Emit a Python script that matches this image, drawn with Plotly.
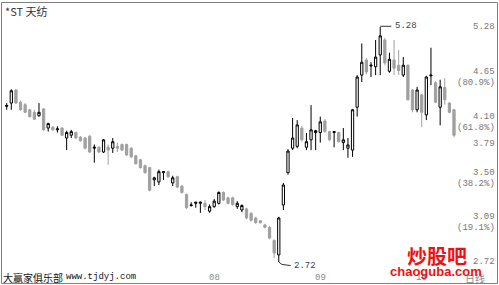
import numpy as np
import plotly.graph_objects as go

# ---- data ----
opens = [4.22,4.26,4.42,4.27,4.24,4.18,4.15,4.11,4.19,3.97,
         3.98,3.95,3.97,3.86,3.89,3.92,3.87,3.86,3.88,3.75,
         3.76,3.71,3.76,3.75,3.77,3.79,3.79,3.75,3.67,3.63,
         3.57,3.55,3.43,3.41,3.50,3.51,3.40,3.46,3.37,3.29,
         3.19,3.21,3.21,3.21,3.14,3.18,3.21,3.31,3.26,3.26,
         3.18,3.15,3.16,3.12,3.08,3.055,3.02,3.00,2.89,2.775,
         3.195,3.50,3.75,3.77,3.97,3.76,3.84,3.92,3.92,4.05,
         3.93,3.92,3.92,3.81,3.75,3.73,4.21,4.61,4.81,4.73,
         4.72,4.88,5.09,4.66,4.81,4.74,4.61,4.74,4.42,4.18,
         4.36,4.12,4.60,4.51,4.21,4.45,4.26,4.18]
highs = [4.26,4.43,4.43,4.29,4.26,4.19,4.18,4.26,4.20,4.03,
         3.99,3.99,3.98,3.94,3.95,3.93,3.88,3.87,3.89,3.79,
         3.77,3.85,3.79,3.86,3.81,3.80,3.80,3.76,3.68,3.64,
         3.58,3.56,3.46,3.53,3.51,3.52,3.47,3.47,3.38,3.30,
         3.22,3.22,3.225,3.24,3.20,3.25,3.32,3.32,3.27,3.27,
         3.23,3.20,3.17,3.13,3.09,3.06,3.03,3.01,2.90,3.09,
         3.40,3.74,4.085,4.06,3.99,3.915,4.235,3.95,4.10,4.07,
         3.94,3.93,3.93,3.97,3.86,4.19,4.61,5.04,4.84,4.78,
         5.09,5.28,5.12,4.91,5.09,4.95,4.85,4.75,4.43,4.46,
         4.37,4.60,4.98,4.53,4.55,4.57,4.27,4.19]
lows = [4.18,4.18,4.25,4.17,4.14,4.09,4.06,4.10,3.94,3.93,
        3.94,3.92,3.88,3.73,3.86,3.85,3.82,3.74,3.70,3.60,
        3.70,3.70,3.58,3.70,3.71,3.72,3.67,3.65,3.58,3.54,
        3.49,3.32,3.37,3.38,3.43,3.45,3.37,3.35,3.30,3.16,
        3.18,3.17,3.125,3.15,3.125,3.17,3.20,3.23,3.20,3.19,
        3.16,3.13,3.07,3.05,3.03,3.03,2.99,2.90,2.75,2.72,
        3.15,3.48,3.73,3.75,3.82,3.73,3.73,3.73,3.81,3.92,
        3.83,3.76,3.81,3.73,3.65,3.66,4.10,4.52,4.62,4.585,
        4.61,4.61,4.74,4.64,4.61,4.61,4.585,4.29,4.15,4.15,
        3.98,4.06,4.48,4.26,4.00,4.24,4.14,3.87]
closes = [4.23,4.41,4.26,4.18,4.15,4.10,4.07,4.15,3.95,4.02,
          3.95,3.96,3.89,3.92,3.93,3.86,3.83,3.75,3.71,3.76,
          3.71,3.84,3.73,3.82,3.75,3.73,3.68,3.66,3.59,3.55,
          3.50,3.33,3.45,3.51,3.51,3.46,3.45,3.36,3.31,3.17,
          3.195,3.22,3.22,3.18,3.18,3.23,3.31,3.24,3.21,3.20,
          3.21,3.19,3.08,3.06,3.04,3.04,3.00,2.91,2.79,3.08,
          3.38,3.72,3.86,4.005,3.84,3.82,3.95,3.94,4.04,3.93,
          3.84,3.93,3.82,3.84,3.785,4.18,4.585,4.78,4.65,4.74,
          4.85,5.15,4.77,4.82,4.70,4.67,4.74,4.30,4.18,4.42,
          4.15,4.585,4.61,4.27,4.46,4.30,4.15,3.89]

month_labels = ["08", "09", "10"]
month_start_idx = [45, 68, 90]

level_values = [5.28, 4.65, 4.10, 3.79, 3.50, 3.09, 2.72]
level_labels = ["5.28", "4.65", "4.10", "3.79", "3.50", "3.09", "2.72"]
level_pct = ["", "(80.9%)", "(61.8%)", "", "(38.2%)", "(19.1%)", ""]

title_text = "*ST 天纺"
brand_cn = "大赢家俱乐部"
brand_url = "www.tjdyj.com"
period_text = "日线"
wm_cn = "炒股吧"
wm_url = "chaoguba.com"

# ---- geometry ----
W, H = 499, 285
n = len(opens)
xs = list(range(n))
x_first_px, x_last_px = 6.7, 454.0
step = (x_last_px - x_first_px) / (n - 1)
x_range = [-x_first_px / step, (n - 1) + (W - x_last_px) / step]

hi = max(highs); lo = min(lows)
y_hi_px, y_lo_px = 27.0, 262.0
ppd = (y_lo_px - y_hi_px) / (np.log10(hi) - np.log10(lo))
y_range = [np.log10(lo) - (H - y_lo_px) / ppd, np.log10(hi) + y_hi_px / ppd]

def py(px):  # paper y from pixel from top
    return 1 - px / H
def pxx(px):
    return px / W

GRAY = "#a0a0a0"
mono = "Liberation Mono"
cjk = "Noto Sans CJK SC"

fig = go.Figure()
fig.add_trace(go.Candlestick(
    x=xs, open=opens, high=highs, low=lows, close=closes,
    increasing=dict(line=dict(color="#000000", width=1), fillcolor="#ffffff"),
    decreasing=dict(line=dict(color=GRAY, width=1), fillcolor=GRAY),
    whiskerwidth=0, hoverinfo="skip", showlegend=False,
))

# leader lines for extremes
ih = int(np.argmax(highs)); il = int(np.argmin(lows))
fig.add_trace(go.Scatter(x=[ih, ih + 2.4], y=[hi * 1.002, hi * 1.002], mode="lines",
                         line=dict(color="#333333", width=1), hoverinfo="skip", showlegend=False))
fig.add_trace(go.Scatter(x=[il, il + 0.7, il + 2.6], y=[lo, lo * 0.993, lo * 0.99], mode="lines",
                         line=dict(color="#333333", width=1), hoverinfo="skip", showlegend=False))

ann = []
ann.append(dict(x=ih + 2.8, y=np.log10(hi * 1.002), xref="x", yref="y", text=f"{hi:.2f}",
                showarrow=False, xanchor="left", yanchor="middle",
                font=dict(family=mono, size=9, color="#444444")))
ann.append(dict(x=il + 2.9, y=np.log10(lo * 0.99), xref="x", yref="y", text=f"{lo:.2f}",
                showarrow=False, xanchor="left", yanchor="middle",
                font=dict(family=mono, size=9, color="#444444")))

for v, lab, pct in zip(level_values, level_labels, level_pct):
    ann.append(dict(x=pxx(497), y=np.log10(v), xref="paper", yref="y", text=lab,
                    showarrow=False, xanchor="right", yanchor="middle",
                    font=dict(family=mono, size=9, color="#777777")))
    if pct:
        ann.append(dict(x=pxx(497), y=np.log10(v), xref="paper", yref="y", text=pct,
                        showarrow=False, xanchor="right", yanchor="middle", yshift=-11,
                        font=dict(family=mono, size=9, color="#777777")))

for idx, lab in zip(month_start_idx, month_labels):
    ann.append(dict(x=idx, y=py(278), xref="x", yref="paper", text=lab, showarrow=False,
                    xanchor="center", yanchor="middle",
                    font=dict(family=mono, size=9, color="#888888")))
ann.append(dict(x=pxx(487), y=py(278), xref="paper", yref="paper", text=period_text,
                showarrow=False, xanchor="right", yanchor="middle",
                font=dict(family=cjk, size=10, color="#888888")))

ann.append(dict(x=pxx(3), y=py(11), xref="paper", yref="paper", text=title_text,
                showarrow=False, xanchor="left", yanchor="middle",
                font=dict(family=cjk, size=11, color="#333333")))
ann.append(dict(x=pxx(1), y=py(277), xref="paper", yref="paper", text=brand_cn,
                showarrow=False, xanchor="left", yanchor="middle",
                font=dict(family=cjk, size=10, color="#111111")))
ann.append(dict(x=pxx(64), y=py(277), xref="paper", yref="paper", text=brand_url,
                showarrow=False, xanchor="left", yanchor="middle",
                font=dict(family=mono, size=9, color="#111111")))

# watermark (drawn on top, as in the reference)
ann.append(dict(x=pxx(437), y=py(255), xref="paper", yref="paper", text=f"<b>{wm_cn}</b>",
                showarrow=False, xanchor="center", yanchor="middle",
                font=dict(family=cjk, size=20, color="#ee1111")))
ann.append(dict(x=pxx(436), y=py(271), xref="paper", yref="paper", text=f"<b>{wm_url}</b>",
                showarrow=False, xanchor="center", yanchor="middle",
                font=dict(family="Liberation Sans", size=13, color="#ee1111")))

fig.update_layout(
    width=W, height=H, margin=dict(l=0, r=0, t=0, b=0),
    paper_bgcolor="white", plot_bgcolor="white",
    xaxis=dict(range=x_range, visible=False, rangeslider=dict(visible=False), fixedrange=True),
    yaxis=dict(type="log", range=y_range, visible=False, fixedrange=True),
    annotations=ann,
    shapes=[dict(type="rect", xref="paper", yref="paper",
                 x0=pxx(1.5), x1=pxx(497.5), y0=py(283.5), y1=py(2.5),
                 line=dict(color="#808080", width=1), fillcolor="rgba(0,0,0,0)", layer="above")],
    showlegend=False,
)

fig.write_html("out.html")
